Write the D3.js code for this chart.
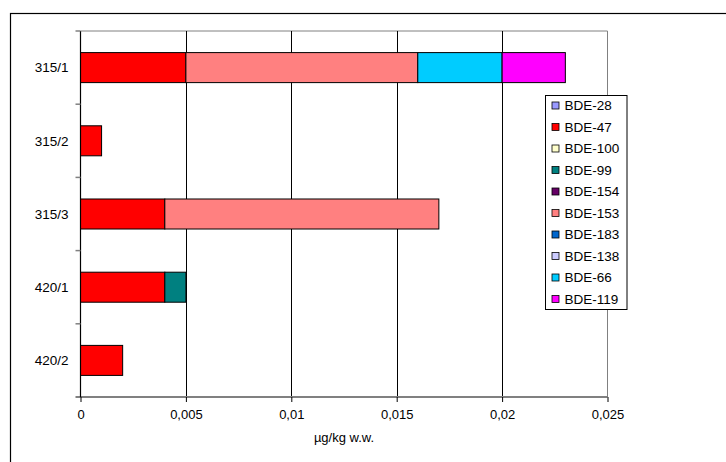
<!DOCTYPE html>
<html><head><meta charset="utf-8">
<script src="https://cdn.jsdelivr.net/npm/d3@7/dist/d3.min.js"></script>
<style>body{margin:0;background:#fff}svg{display:block;font-family:"Liberation Sans",Arial,sans-serif}</style>
</head><body>
<svg id="c" width="726" height="462"></svg>
<script>
const categories = ["315/1","315/2","315/3","420/1","420/2"];
const seriesNames = ["BDE-28","BDE-47","BDE-100","BDE-99","BDE-154","BDE-153","BDE-183","BDE-138","BDE-66","BDE-119"];
const seriesColors = ["#9999FF","#FF0000","#FFFFCC","#008080","#660066","#FF8080","#0066CC","#CCCCFF","#00CCFF","#FF00FF"];
const bde28  = [0,0,0,0,0];
const bde47  = [0.005,0.001,0.004,0.004,0.002];
const bde100 = [0,0,0,0,0];
const bde99  = [0,0,0,0.001,0];
const bde154 = [0,0,0,0,0];
const bde153 = [0.011,0,0.013,0,0];
const bde183 = [0,0,0,0,0];
const bde138 = [0,0,0,0,0];
const bde66  = [0.004,0,0,0,0];
const bde119 = [0.003,0,0,0,0];
const xTicks = [0,0.005,0.01,0.015,0.02,0.025];
const xTickLabels = ["0","0,005","0,01","0,015","0,02","0,025"];
const xTitle = "µg/kg w.w.";

const seriesValues = [bde28,bde47,bde100,bde99,bde154,bde153,bde183,bde138,bde66,bde119];
const rows = categories.map((c,i)=>{const o={cat:c};seriesNames.forEach((s,j)=>o[s]=seriesValues[j][i]);return o;});
const stack = d3.stack().keys(seriesNames)(rows);

const svg = d3.select("#c");
const L=80.5, T=31, R=607.5, B=397;
const x = d3.scaleLinear().domain([0,0.025]).range([L,R]);
const y = d3.scaleBand().domain(categories).range([T,B]).paddingInner(0.59).paddingOuter(0.295);

// outer frame
svg.append("rect").attr("x",10.5).attr("y",13.5).attr("width",800).attr("height",600)
  .attr("fill","none").attr("stroke","#000").attr("stroke-width",1.2);

// plot border (top/right)
svg.append("path").attr("d",`M${L},${T}H${R}V${B}`).attr("fill","none").attr("stroke","#808080").attr("stroke-width",1);

// gridlines
svg.append("g").selectAll("line").data(xTicks.slice(1,-1)).join("line")
  .attr("x1",d=>Math.round(x(d))+0.5).attr("x2",d=>Math.round(x(d))+0.5)
  .attr("y1",T).attr("y2",B).attr("stroke","#000").attr("stroke-width",1);

// bars
svg.append("g").selectAll("g").data(stack).join("g")
  .attr("fill",(d,i)=>seriesColors[i])
  .selectAll("rect").data(d=>d.filter(p=>p[1]-p[0]>0)).join("rect")
  .attr("x",d=>x(d[0])).attr("width",d=>x(d[1])-x(d[0]))
  .attr("y",d=>y(d.data.cat)).attr("height",y.bandwidth())
  .attr("stroke","#000").attr("stroke-width",1);

// x axis
const xAxis = d3.axisBottom(x).tickValues(xTicks).tickFormat((d,i)=>xTickLabels[i]).tickSize(5).tickSizeOuter(0).tickPadding(8);
const gx = svg.append("g").attr("transform",`translate(0,${B})`).call(xAxis);
gx.select(".domain").attr("stroke","#808080").attr("stroke-width",2).attr("d",`M${L-5},0H${R}`);
gx.selectAll(".tick line").attr("stroke","#000");
gx.selectAll("text").attr("font-size",13).attr("fill","#000").attr("font-family","Liberation Sans, Arial, sans-serif");

// y axis
const gy = svg.append("g").attr("transform",`translate(${L},0)`);
gy.append("line").attr("x1",0).attr("x2",0).attr("y1",T).attr("y2",B).attr("stroke","#000").attr("stroke-width",1.2);
const bounds = d3.range(0,categories.length+1).map(i=>T+i*(B-T)/categories.length);
gy.selectAll("line.t").data(bounds.slice(0,-1)).join("line").attr("class","t")
  .attr("x1",-5).attr("x2",0).attr("y1",d=>d).attr("y2",d=>d).attr("stroke","#808080").attr("stroke-width",1.5);
gy.selectAll("text").data(categories).join("text")
  .attr("x",-12).attr("y",d=>y(d)+y.bandwidth()/2).attr("dy","0.35em")
  .attr("text-anchor","end").attr("font-size",13.5).text(d=>d);

// x title
svg.append("text").attr("x",(L+R)/2).attr("y",442).attr("text-anchor","middle").attr("font-size",13).text(xTitle);

// legend
const lg = svg.append("g");
const lx=545.5, ly=95.5, lw=81.5, lh=214;
lg.append("rect").attr("x",lx).attr("y",ly).attr("width",lw).attr("height",lh).attr("fill","#fff").attr("stroke","#000").attr("stroke-width",1);
const rowH = 21.5;
seriesNames.forEach((s,i)=>{
  const cy = ly+10+i*rowH;
  lg.append("rect").attr("x",lx+6.5).attr("y",cy-3.5).attr("width",7).attr("height",7)
    .attr("fill",seriesColors[i]).attr("stroke","#000").attr("stroke-width",0.8);
  lg.append("text").attr("x",lx+19).attr("y",cy).attr("dy","0.36em").attr("font-size",13.5).text(s);
});
</script>
</body></html>
